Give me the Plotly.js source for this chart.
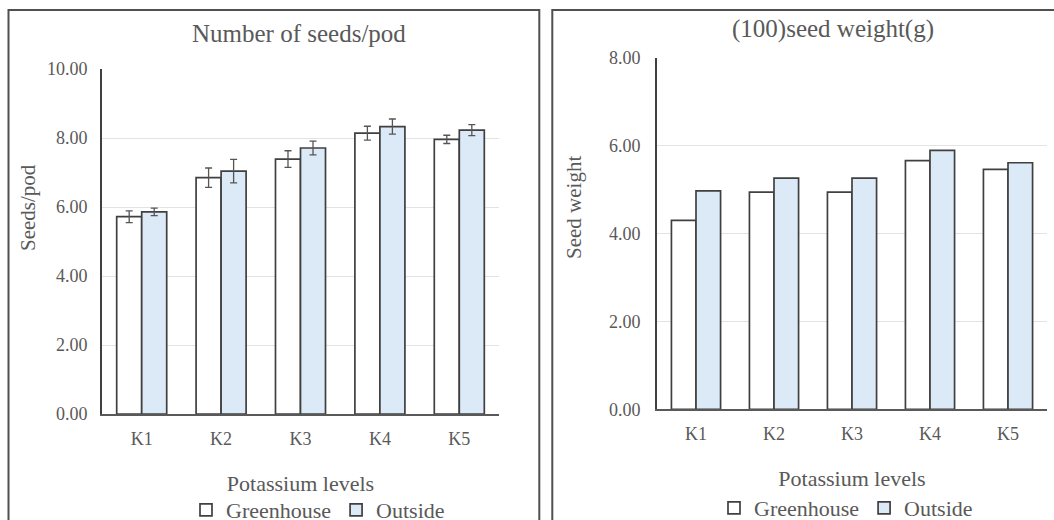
<!DOCTYPE html>
<html>
<head>
<meta charset="utf-8">
<script src="https://cdn.plot.ly/plotly-3.0.1.min.js"></script>
<style>html,body{margin:0;padding:0;background:#fff;}#chart{width:1054px;height:520px;}</style>
</head>
<body>
<div id="chart"></div>
<script>
// Data
const categories = ["K1", "K2", "K3", "K4", "K5"];
const seriesNames = ["Greenhouse", "Outside"];
const seedsPodGreenhouse = [5.72, 6.85, 7.39, 8.14, 7.96];
const seedsPodOutside = [5.86, 7.04, 7.71, 8.33, 8.23];
const seedsPodGreenhouseErr = [0.17, 0.28, 0.24, 0.20, 0.12];
const seedsPodOutsideErr = [0.11, 0.34, 0.20, 0.22, 0.16];
const seedWeightGreenhouse = [4.30, 4.94, 4.94, 5.66, 5.46];
const seedWeightOutside = [4.97, 5.26, 5.26, 5.89, 5.61];
const leftTicks = [0, 2, 4, 6, 8, 10];
const rightTicks = [0, 2, 4, 6, 8];

const W = 1054, H = 520;
const px = x => x / W;
const py = y => 1 - y / H;

const FONT = "Liberation Serif";
const TXT = "#595959";
const EDGE = "#404040";
const BLUE = "#dce9f6";
const f = size => ({family: FONT, size: size, color: TXT});

const err = arr => ({type: "data", visible: true, array: arr, color: "#555555", thickness: 1.3, width: 3.5});
const mk = fill => ({color: fill, line: {color: EDGE, width: 1.7}});

const traces = [
  {type: "bar", name: seriesNames[0], x: categories, y: seedsPodGreenhouse, error_y: err(seedsPodGreenhouseErr),
   marker: mk("#ffffff"), xaxis: "x", yaxis: "y", legend: "legend"},
  {type: "bar", name: seriesNames[1], x: categories, y: seedsPodOutside, error_y: err(seedsPodOutsideErr),
   marker: mk(BLUE), xaxis: "x", yaxis: "y", legend: "legend"},
  {type: "bar", name: seriesNames[0], x: categories, y: seedWeightGreenhouse,
   marker: mk("#ffffff"), xaxis: "x2", yaxis: "y2", legend: "legend2"},
  {type: "bar", name: seriesNames[1], x: categories, y: seedWeightOutside,
   marker: mk(BLUE), xaxis: "x2", yaxis: "y2", legend: "legend2"}
];

const xAxis = (dom, anchor) => ({
  type: "category", domain: dom, anchor: anchor, showgrid: false, showline: true, linecolor: "#595959", linewidth: 2,
  ticks: "", tickfont: f(18), ticklabelstandoff: 7, fixedrange: true, automargin: false,
  title: {text: "Potassium levels", font: f(22), standoff: 28}
});
const yAxis = (dom, anchor, range, ticks, standoff) => ({
  domain: dom, anchor: anchor, range: range, tickvals: ticks,
  showgrid: true, gridcolor: "#e3e3e3", gridwidth: 1, showline: true, linecolor: "#404040", linewidth: 2,
  zeroline: false, ticks: "", tickformat: ".2f", tickfont: f(18), ticklabelstandoff: standoff, fixedrange: true,
  automargin: false
});

const layout = {
  width: W, height: H,
  margin: {l: 0, r: 0, t: 0, b: 0, autoexpand: false},
  paper_bgcolor: "#ffffff", plot_bgcolor: "#ffffff",
  barmode: "group", bargap: 0.37, bargroupgap: 0,
  font: {family: FONT, color: TXT},
  xaxis: xAxis([px(102), px(499)], "y"),
  yaxis: yAxis([py(414), py(69)], "x", [0, 10], leftTicks, 9),
  xaxis2: xAxis([px(657), px(1047)], "y2"),
  yaxis2: yAxis([py(409.3), py(57.7)], "x2", [0, 8], rightTicks, 11),
  showlegend: true,
  legend: {orientation: "h", x: px(318), xanchor: "center", y: py(510), yanchor: "middle",
    font: f(22), itemwidth: 30, bgcolor: "rgba(0,0,0,0)"},
  legend2: {orientation: "h", x: px(846), xanchor: "center", y: py(508), yanchor: "middle",
    font: f(22), itemwidth: 30, bgcolor: "rgba(0,0,0,0)"},
  annotations: [
    {text: "Number of seeds/pod", xref: "paper", yref: "paper", x: px(299), y: py(33),
     xanchor: "center", yanchor: "middle", showarrow: false, font: f(25)},
    {text: "(100)seed weight(g)", xref: "paper", yref: "paper", x: px(833), y: py(29),
     xanchor: "center", yanchor: "middle", showarrow: false, font: f(25)},
    {text: "Seeds/pod", xref: "paper", yref: "paper", x: px(28), y: py(208), textangle: -90,
     xanchor: "center", yanchor: "middle", showarrow: false, font: f(21)},
    {text: "Seed weight", xref: "paper", yref: "paper", x: px(574), y: py(208), textangle: -90,
     xanchor: "center", yanchor: "middle", showarrow: false, font: f(21)}
  ],
  shapes: [
    {type: "rect", xref: "paper", yref: "paper", x0: px(8.5), x1: px(539.3), y0: -0.05, y1: py(10),
     line: {color: "#505050", width: 2}, fillcolor: "rgba(0,0,0,0)", layer: "above"},
    {type: "rect", xref: "paper", yref: "paper", x0: px(552.3), x1: 1.05, y0: -0.05, y1: py(10),
     line: {color: "#505050", width: 2}, fillcolor: "rgba(0,0,0,0)", layer: "above"}
  ]
};

Plotly.newPlot("chart", traces, layout, {displayModeBar: false, staticPlot: true});
</script>
</body>
</html>
